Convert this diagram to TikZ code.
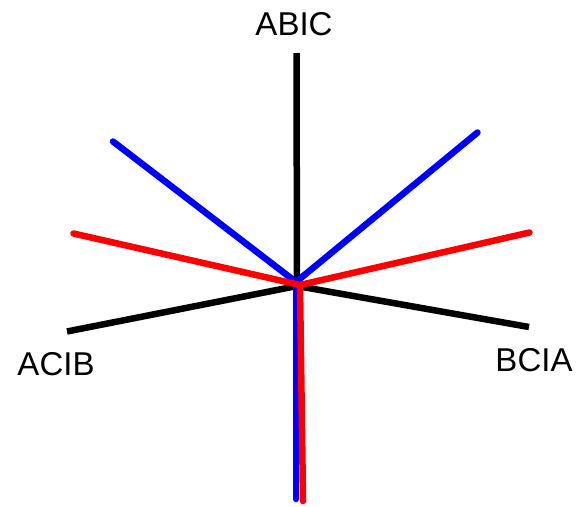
\documentclass[tikz,border=0pt]{standalone}
\usepackage{fontspec}
\setmainfont{Liberation Sans}
\begin{document}
\begin{tikzpicture}[x=1pt,y=-1pt,
  blk/.style={draw=black,line width=6.5pt},
  blu/.style={draw=blue,line width=6.5pt,line cap=round},
  rd/.style={draw=red,line width=6.5pt,line cap=round},
  lbl/.style={font=\fontsize{33}{38}\selectfont,inner sep=0pt}]
\useasboundingbox (0,0) rectangle (577,506);
\coordinate (ck) at (297,286);
\coordinate (cb) at (296,282);
\coordinate (cr) at (300,285);
\coordinate (kt) at (296.5,53);
\coordinate (kl) at (67,331.5);
\coordinate (kr) at (529,327);
\coordinate (bl) at (113,141.5);
\coordinate (br) at (477.5,132.5);
\coordinate (bd) at (296,499);
\coordinate (rl) at (73.5,233.5);
\coordinate (rr) at (529.5,232.5);
\coordinate (rdn) at (303,501);
\draw[blk] (kt) -- (ck);
\draw[blk] (kl) -- (ck) -- (kr);
\draw[blu] (bl) -- (cb) -- (br);
\draw[blu] (cb) -- (bd);
\draw[rd] (rl) -- (cr) -- (rr);
\draw[rd] (cr) -- (rdn);
\node[lbl] (t1) at (294,24.5) {ABIC};
\node[lbl] (t2) at (56,364) {ACIB};
\node[lbl] (t3) at (534,360.5) {BCIA};
\end{tikzpicture}
\end{document}
